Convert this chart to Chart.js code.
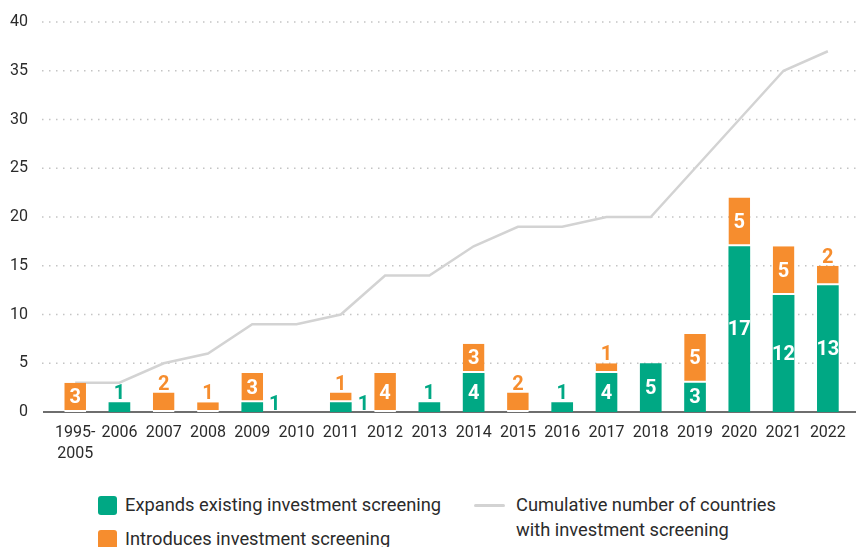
<!DOCTYPE html>
<html>
<head>
<meta charset="utf-8">
<script src="https://cdn.jsdelivr.net/npm/chart.js@4/dist/chart.umd.min.js"></script>
<style>
  body { margin: 0; background: #fff; width: 856px; height: 547px; overflow: hidden; position: relative; }
  #chart { position: absolute; left: 0; top: 0; }
  .legend { position: absolute; font-family: Roboto, sans-serif; font-size: 18.3px; color: #2b2b2b; line-height: 25px; white-space: nowrap; }
  .sw { position: absolute; width: 19px; height: 19px; border-radius: 3px; }
  .ln { position: absolute; width: 31px; height: 3px; background: #d3d3d3; border-radius: 2px; }
</style>
</head>
<body>
<canvas id="chart" width="856" height="470"></canvas>

<div class="sw" style="left:98px; top:496px; background:#00a884;"></div>
<div class="legend" style="left:125px; top:492px;">Expands existing investment screening</div>
<div class="sw" style="left:98px; top:530px; background:#f68d2e;"></div>
<div class="legend" style="left:125px; top:526px;">Introduces investment screening</div>
<div class="ln" style="left:474px; top:504px;"></div>
<div class="legend" style="left:516px; top:492px;">Cumulative number of countries<br>with investment screening</div>

<script>
const years = [['1995-', '2005'], '2006', '2007', '2008', '2009', '2010', '2011', '2012', '2013',
    '2014', '2015', '2016', '2017', '2018', '2019', '2020', '2021', '2022'];
const expands = [0, 1, 0, 0, 1, 0, 1, 0, 1, 4, 0, 1, 4, 5, 3, 17, 12, 13];
const introduces = [3, 0, 2, 1, 3, 0, 1, 4, 0, 3, 2, 0, 1, 0, 5, 5, 5, 2];
const cumulative = [3, 3, 5, 6, 9, 9, 10, 14, 14, 17, 19, 19, 20, 20, 25, 30, 35, 37];
const yTicks = [0, 5, 10, 15, 20, 25, 30, 35, 40];

const GREEN = '#00a884';
const ORANGE = '#f68d2e';
const FONT = 'Roboto, sans-serif';

// dotted grid lines + solid baseline, drawn across the full width
const gridPlugin = {
    id: 'grid',
    beforeDatasetsDraw(chart) {
        const ctx = chart.ctx;
        const y = chart.scales.y;
        ctx.save();
        yTicks.forEach(v => {
            const py = y.getPixelForValue(v);
            ctx.beginPath();
            if (v === 0) {
                ctx.setLineDash([]);
                ctx.strokeStyle = '#6e6e6e';
                ctx.lineWidth = 2;
                ctx.moveTo(43, py);
            } else {
                ctx.setLineDash([1.5, 5.5]);
                ctx.strokeStyle = '#c4c4c4';
                ctx.lineWidth = 1.5;
                ctx.moveTo(42, py);
            }
            ctx.lineTo(chart.width, py);
            ctx.stroke();
        });
        ctx.restore();
    }
};

// value labels on the bars
const labelPlugin = {
    id: 'barLabels',
    afterDatasetsDraw(chart) {
        const ctx = chart.ctx;
        ctx.save();
        ctx.font = 'bold 20px ' + FONT;
        [0, 1].forEach(di => {
            const meta = chart.getDatasetMeta(di);
            const values = chart.data.datasets[di].data;
            meta.data.forEach((bar, i) => {
                const v = values[i];
                if (!v) return;
                const txt = String(v);
                if (v >= 3) {
                    ctx.fillStyle = '#fff';
                    ctx.textAlign = 'center';
                    ctx.textBaseline = 'middle';
                    ctx.fillText(txt, bar.x, (bar.y + bar.base) / 2 + 1);
                } else if (di === 0 && introduces[i] > 0) {
                    ctx.fillStyle = GREEN;
                    ctx.textAlign = 'left';
                    ctx.textBaseline = 'alphabetic';
                    ctx.fillText(txt, bar.x + bar.width / 2 + 6, bar.base - 2);
                } else {
                    ctx.fillStyle = di === 0 ? GREEN : ORANGE;
                    ctx.textAlign = 'center';
                    ctx.textBaseline = 'alphabetic';
                    ctx.fillText(txt, bar.x, bar.y - 3);
                }
            });
        });
        ctx.restore();
    }
};

new Chart(document.getElementById('chart'), {
    type: 'bar',
    data: {
        labels: years,
        datasets: [{
            label: 'Expands existing investment screening',
            data: expands,
            backgroundColor: GREEN,
            stack: 'bars',
            order: 1,
            categoryPercentage: 1,
            barPercentage: 0.49
        }, {
            label: 'Introduces investment screening',
            data: introduces,
            backgroundColor: ORANGE,
            borderColor: '#fff',
            borderWidth: { top: 0, left: 0, right: 0, bottom: 2 },
            borderSkipped: false,
            stack: 'bars',
            order: 1,
            categoryPercentage: 1,
            barPercentage: 0.49
        }, {
            type: 'line',
            label: 'Cumulative number of countries with investment screening',
            data: cumulative,
            borderColor: '#d3d3d3',
            borderWidth: 2.5,
            pointRadius: 0,
            tension: 0,
            stack: 'line',
            order: 3
        }]
    },
    options: {
        responsive: false,
        animation: false,
        layout: { padding: { top: 22, right: 6, left: 0, bottom: 0 } },
        plugins: {
            legend: { display: false },
            tooltip: { enabled: false }
        },
        scales: {
            x: {
                stacked: true,
                offset: true,
                grid: { display: false },
                border: { display: false },
                ticks: {
                    color: '#2b2b2b',
                    font: { family: FONT, size: 16, lineHeight: 1.3 },
                    padding: 3,
                    maxRotation: 0,
                    autoSkip: false
                },
                afterFit(scale) { scale.height = 58; }
            },
            y: {
                stacked: true,
                min: 0,
                max: 40,
                grid: { display: false },
                border: { display: false },
                ticks: {
                    stepSize: 5,
                    color: '#2b2b2b',
                    font: { family: FONT, size: 16 },
                    padding: 17
                },
                afterFit(scale) {
                    scale.width = 53;
                    scale.paddingTop = 0;
                    scale.paddingBottom = 0;
                }
            }
        }
    },
    plugins: [gridPlugin, labelPlugin]
});
</script>
</body>
</html>
